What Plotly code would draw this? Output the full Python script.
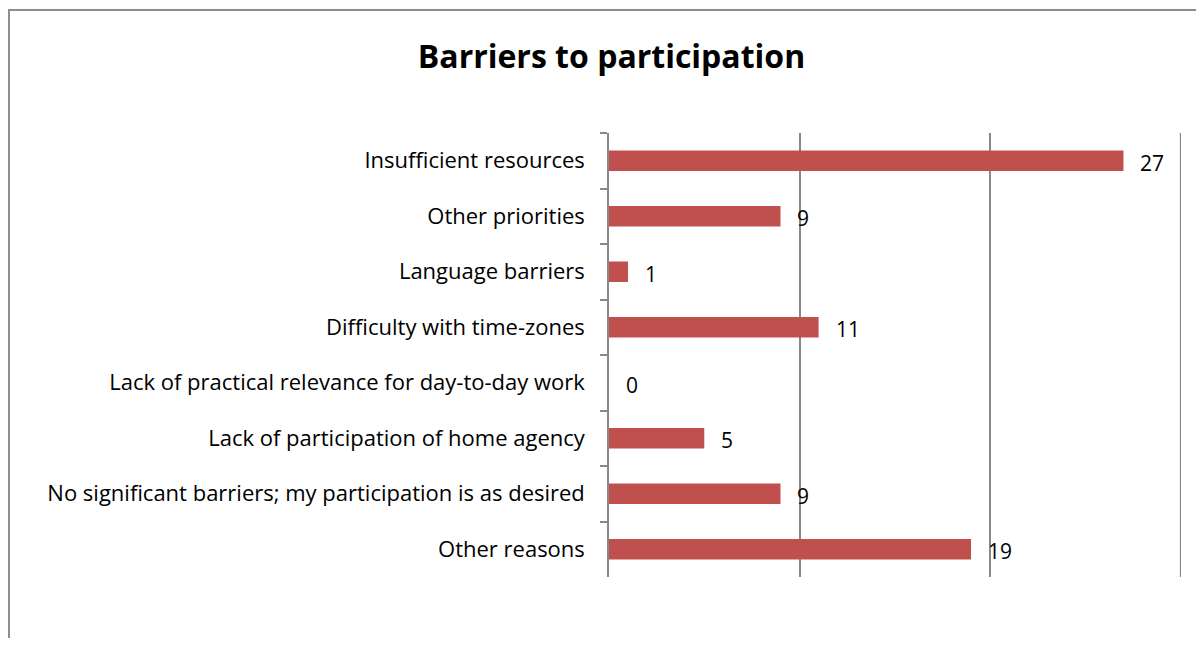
import plotly.graph_objects as go

categories = [
    "Insufficient resources",
    "Other priorities",
    "Language barriers",
    "Difficulty with time-zones",
    "Lack of practical relevance for day-to-day work",
    "Lack of participation of home agency",
    "No significant barriers; my participation is as desired",
    "Other reasons",
]
values = [27, 9, 1, 11, 0, 5, 9, 19]
grid_values = [10, 20, 30]

BAR = "#C0504D"
GRID = "#898989"
FONT = "Open Sans"

fig = go.Figure()
fig.add_trace(go.Bar(
    y=categories, x=values, orientation="h",
    marker=dict(color=BAR, line=dict(width=0)),
    hoverinfo="skip",
))

for c, v in zip(categories, values):
    fig.add_annotation(x=v, y=c, text=str(v), showarrow=False,
                       xanchor="left", xshift=15, yshift=-2,
                       font=dict(family=FONT, size=21, color="#000000"))

shapes = [dict(type="rect", xref="paper", yref="paper",
               x0=-1.049, x1=1.2, y0=-0.5, y1=1.277,
               line=dict(color="#8c8c8c", width=2), fillcolor="rgba(0,0,0,0)")]
shapes.append(dict(type="line", xref="x", yref="paper", x0=grid_values[-1],
                   x1=grid_values[-1], y0=0, y1=1,
                   line=dict(color=GRID, width=1.5)))

fig.update_layout(
    width=1188, height=630,
    margin=dict(l=601, r=15, t=125, b=61),
    paper_bgcolor="white", plot_bgcolor="white",
    showlegend=False,
    bargap=0.63,
    title=dict(text="<b>Barriers to participation</b>", x=0.508, xanchor="center",
               y=0.922, yanchor="middle",
               font=dict(family=FONT, size=32, color="#000000")),
    font=dict(family=FONT, size=16, color="#000000"),
    xaxis=dict(range=[0, 30.02], tickvals=grid_values, showticklabels=False,
               showgrid=True, gridcolor=GRID, gridwidth=1.5, zeroline=False,
               showline=False, ticks=""),
    yaxis=dict(autorange="reversed", tickson="boundaries", ticks="outside",
               ticklen=7, tickcolor=GRID, tickwidth=1.5,
               showline=True, linecolor=GRID, linewidth=1.5,
               showgrid=False, ticklabelstandoff=18,
               tickfont=dict(family=FONT, size=22, color="#000000")),
    shapes=shapes,
)

fig.write_html("out.html")
